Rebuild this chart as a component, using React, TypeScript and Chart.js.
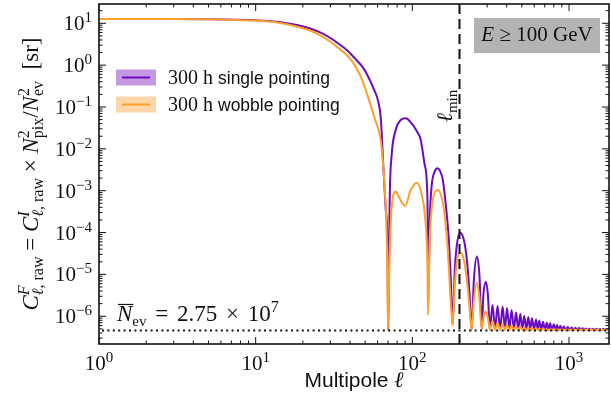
import React, { useEffect, useRef } from 'react';
import { Chart, registerables } from 'chart.js';

Chart.register(...registerables);

// ---- data (multipole ell, C_ell raw in sr) ----
const singlePointing: [number, number][] = [
  [1, 12.6], [3, 12.6], [6, 12.4], [10, 11.8], [14, 10.7], [18.4, 9.1], [22, 7.6], [26, 6.0], [30, 4.45],
  [34, 3.2], [38.4, 2.25], [43, 1.45], [48.7, 0.85], [52, 0.55], [56.4, 0.284], [60.7, 0.131], [63, 0.05],
  [65.6, 2.65e-3], [67.5, 4.0e-4],
  [69.3, 6.6e-5], [70.3, 4.6e-7], [71.7, 6.0e-4], [73.8, 7.1e-3], [78.3, 0.0282], [84.3, 0.0489],
  [90.7, 0.0537], [100.6, 0.0372], [107, 0.026], [113.2, 0.0163], [120, 4.1e-3], [124.9, 6.0e-4],
  [126.4, 2.5e-6], [129.2, 2.0e-4], [133, 1.37e-3], [138, 2.7e-3], [144.7, 3.43e-3], [150, 3.0e-3],
  [156.5, 1.8e-3], [166, 2.6e-4], [171, 6.6e-5], [176, 8e-6], [180.6, 6.2e-7], [186.7, 1.29e-5],
  [192.3, 5.0e-5], [202, 9.9e-5], [213.3, 6.6e-5], [223, 2.2e-5], [231, 4.2e-6], [239, 4.8e-7],
  [247, 7.3e-6], [258, 2.68e-5], [268, 9.7e-6], [277, 5.0e-7], [284, 3.2e-6], [295, 6.7e-6],
  [303.7, 3.2e-6], [312.7, 5.0e-7], [325, 1.86e-6], [337, 5.0e-7], [350, 1.76e-6], [363, 5.0e-7],
  [377, 1.7e-6], [390, 5.0e-7], [402, 1.57e-6], [416, 5.0e-7], [430, 1.41e-6], [445, 4.9e-7],
  [459, 1.22e-6], [474, 4.9e-7], [489, 1.15e-6], [503, 4.9e-7], [518, 1.01e-6], [534, 4.9e-7],
  [550, 9.6e-7], [565, 4.8e-7], [580, 8.9e-7], [598, 4.8e-7], [616, 8.4e-7], [631, 4.8e-7],
  [646, 7.8e-7], [665, 4.8e-7], [683, 7.4e-7], [702, 4.7e-7], [721, 7.0e-7], [739, 4.7e-7],
  [757, 6.8e-7], [778, 4.7e-7], [799, 6.4e-7], [819, 4.7e-7], [839, 6.2e-7], [860, 4.7e-7],
  [881, 5.9e-7], [903, 4.7e-7], [926, 5.7e-7], [954, 4.7e-7], [982, 5.5e-7], [1010, 4.7e-7],
  [1040, 5.4e-7], [1070, 4.7e-7], [1100, 5.3e-7], [1130, 4.7e-7], [1160, 5.2e-7], [1190, 4.7e-7],
  [1220, 5.15e-7], [1250, 4.7e-7], [1280, 5.1e-7], [1315, 4.7e-7], [1350, 5.05e-7], [1385, 4.7e-7],
  [1420, 5.0e-7], [1460, 4.7e-7], [1500, 5.0e-7], [1540, 4.7e-7], [1580, 4.95e-7], [1620, 4.7e-7],
  [1660, 4.95e-7], [1700, 4.7e-7], [1750, 4.9e-7], [1800, 4.8e-7],
];

const wobblePointing: [number, number][] = [
  [1, 12.6], [3, 12.6], [6, 12.3], [10, 11.6], [14, 10.3], [18.4, 8.3], [22, 6.8], [26, 5.1], [30, 3.63],
  [34, 2.5], [38.4, 1.7], [42, 1.12], [46.7, 0.55], [50.3, 0.26], [54, 0.115], [58, 0.048], [62.8, 0.0163],
  [65.3, 3.5e-3], [67.6, 4.1e-4], [69, 3e-5], [69.9, 4.6e-7], [71.7, 3.8e-5], [74.6, 6.0e-4], [78.3, 9.5e-4],
  [81.9, 7.1e-4], [89.8, 4.3e-4], [97.7, 1.04e-3], [106.7, 1.55e-3], [114.9, 7.9e-4], [121, 2.0e-4],
  [124.5, 2.5e-5], [126, 1.07e-6], [129.2, 6.6e-5], [135, 6.0e-4], [146, 1.04e-3], [156.5, 5.1e-4],
  [163.6, 1.4e-4], [169, 3e-5], [175, 3e-6], [180.6, 6.2e-7], [186.7, 5.6e-6], [192.3, 1.98e-5],
  [202, 3.37e-5], [213.3, 2.2e-5], [223, 7.3e-6], [231, 1.86e-6], [239, 4.7e-7], [247, 2.4e-6],
  [258, 6.3e-6], [268, 2.7e-6], [277, 4.8e-7], [286, 1.0e-6], [295, 1.29e-6], [304, 9e-7],
  [312.7, 4.7e-7], [325, 7.7e-7], [337, 4.7e-7], [350, 6.8e-7], [363, 4.7e-7], [377, 6.5e-7],
  [390, 4.65e-7], [402, 6.2e-7], [416, 4.65e-7], [430, 6.0e-7], [445, 4.65e-7], [459, 5.8e-7],
  [474, 4.65e-7], [489, 5.6e-7], [503, 4.65e-7], [518, 5.4e-7], [534, 4.65e-7], [550, 5.3e-7],
  [565, 4.65e-7], [580, 5.2e-7], [598, 4.65e-7], [616, 5.1e-7], [631, 4.65e-7], [646, 5.0e-7],
  [665, 4.65e-7], [683, 4.95e-7], [720, 4.75e-7], [800, 4.8e-7], [1000, 4.75e-7], [1400, 4.75e-7],
  [1800, 4.7e-7],
];

const seriesLabels = ['single pointing', 'wobble pointing'];
const noiseLevel = 4.57e-7;
const ellMin = 200;
const xRange = [1, 1800];
const yRange = [2.17e-7, 28.9];
const xTickExps = [0, 1, 2, 3];
const yTickExps = [-6, -5, -4, -3, -2, -1, 0, 1];

const PURPLE = '#6a0cc0';
const ORANGE = '#ffa02e';
const PURPLE_FILL = 'rgba(150, 70, 200, 0.55)';
const ORANGE_FILL = 'rgba(253, 180, 100, 0.55)';
const SERIF = '"Liberation Serif", "DejaVu Serif", serif';
const SANS = '"Liberation Sans", "DejaVu Sans", sans-serif';

type Tok = { t?: string; s?: number; it?: boolean; fam?: string; dy?: number; over?: boolean; gap?: number; sup?: Tok[]; sub?: Tok[] };

const fontOf = (k: Tok) => `${k.it ? 'italic ' : ''}${k.s || 21}px ${k.fam || SERIF}`;

function runWidth(ctx: CanvasRenderingContext2D, toks: Tok[]): number {
  let w = 0;
  for (const k of toks) {
    if (k.gap) {
      w += k.gap;
    } else if (k.sup || k.sub) {
      w += Math.max(runWidth(ctx, k.sup || []), runWidth(ctx, k.sub || []));
    } else {
      ctx.font = fontOf(k);
      w += ctx.measureText(k.t || '').width;
    }
  }
  return w;
}

function drawRun(ctx: CanvasRenderingContext2D, toks: Tok[], x: number, y: number): number {
  let cx = x;
  for (const k of toks) {
    if (k.gap) {
      cx += k.gap;
    } else if (k.sup || k.sub) {
      const a = drawRun(ctx, k.sup || [], cx, y);
      const b = drawRun(ctx, k.sub || [], cx, y);
      cx = Math.max(a, b);
    } else {
      ctx.font = fontOf(k);
      const w = ctx.measureText(k.t || '').width;
      ctx.fillText(k.t || '', cx, y + (k.dy || 0));
      if (k.over) {
        ctx.save();
        ctx.lineWidth = 1.2;
        ctx.beginPath();
        ctx.moveTo(cx + 1, y + (k.dy || 0) - 17);
        ctx.lineTo(cx + w + 1, y + (k.dy || 0) - 17);
        ctx.stroke();
        ctx.restore();
      }
      cx += w;
    }
  }
  return cx;
}

const supTok = (t: string, it = false, s = 15): Tok => ({ t, s, it, dy: -9 });
const subTok = (t: string, it = false, s = 15): Tok => ({ t, s, it, dy: 5 });
const powTen = (e: number): Tok[] => [{ t: '10', s: 21 }, { t: e < 0 ? '\u2212' + (-e) : String(e), s: 15, dy: -8 }];

const decor = {
  id: 'decor',
  afterDatasetsDraw(chart: any) {
    const { ctx, chartArea: a, scales } = chart;
    const xs = scales.x;
    const ys = scales.y;
    ctx.save();
    ctx.fillStyle = '#111';
    ctx.strokeStyle = '#111';
    ctx.textBaseline = 'alphabetic';
    ctx.textAlign = 'left';

    // noise level (dotted)
    const yn = ys.getPixelForValue(noiseLevel);
    ctx.save();
    ctx.lineWidth = 2;
    ctx.setLineDash([2, 3.4]);
    ctx.beginPath();
    ctx.moveTo(a.left + 3, yn);
    ctx.lineTo(a.right, yn);
    ctx.stroke();
    ctx.restore();

    // ell_min dashed
    const xm = xs.getPixelForValue(ellMin);
    ctx.save();
    ctx.lineWidth = 2;
    ctx.setLineDash([10, 5]);
    ctx.beginPath();
    ctx.moveTo(xm, a.top);
    ctx.lineTo(xm, a.bottom);
    ctx.stroke();
    ctx.restore();

    // frame
    ctx.lineWidth = 1.6;
    ctx.strokeRect(a.left, a.top, a.right - a.left, a.bottom - a.top);

    // ticks
    ctx.lineWidth = 1;
    const tick = (x1: number, y1: number, x2: number, y2: number) => {
      ctx.beginPath();
      ctx.moveTo(x1, y1);
      ctx.lineTo(x2, y2);
      ctx.stroke();
    };
    for (let e = -7; e <= 1; e++) {
      for (let m = 1; m <= 9; m++) {
        const v = m * Math.pow(10, e);
        if (v < yRange[0] || v > yRange[1]) continue;
        const y = ys.getPixelForValue(v);
        const len = m === 1 ? 7 : 3.5;
        tick(a.left, y, a.left + len, y);
        tick(a.right, y, a.right - len, y);
      }
    }
    for (let e = 0; e <= 3; e++) {
      for (let m = 1; m <= 9; m++) {
        const v = m * Math.pow(10, e);
        if (v < xRange[0] || v > xRange[1]) continue;
        const x = xs.getPixelForValue(v);
        const len = m === 1 ? 7 : 3.5;
        tick(x, a.bottom, x, a.bottom - len);
        tick(x, a.top, x, a.top + len);
      }
    }

    // tick labels
    for (const e of yTickExps) {
      const y = ys.getPixelForValue(Math.pow(10, e));
      const toks = powTen(e);
      const w = runWidth(ctx, toks);
      drawRun(ctx, toks, a.left - 7 - w, y + 7);
    }
    for (const e of xTickExps) {
      const x = xs.getPixelForValue(Math.pow(10, e));
      const toks = powTen(e);
      const w = runWidth(ctx, toks);
      drawRun(ctx, toks, x - w / 2, a.bottom + 26);
    }

    // x-axis title
    const xt: Tok[] = [{ t: 'Multipole ', s: 21, fam: SANS }, { t: '\u2113', s: 22, it: true }];
    const xtw = runWidth(ctx, xt);
    drawRun(ctx, xt, (a.left + a.right) / 2 - xtw / 2, a.bottom + 43);

    // y-axis title (rotated)
    const ell = (s: number, dy: number): Tok => ({ t: '\u2113', s, it: true, dy });
    const B = 23;
    const yt: Tok[] = [
      { t: 'C', it: true, s: B },
      { sup: [supTok('F', true, 16)], sub: [ell(16, 5), subTok(', raw', false, 16)] },
      { t: ' = ', s: B },
      { t: 'C', it: true, s: B },
      { sup: [supTok('I', true, 16)], sub: [ell(16, 5), subTok(', raw', false, 16)] },
      { t: ' \u00d7 ', s: B },
      { t: 'N', it: true, s: B },
      { sup: [supTok('2', false, 16)], sub: [subTok('pix', false, 16)] },
      { t: '/', s: B },
      { t: 'N', it: true, s: B },
      { sup: [supTok('2', false, 16)], sub: [subTok('ev', false, 16)] },
      { t: '  [sr]', s: B },
    ];
    const ytw = runWidth(ctx, yt);
    ctx.save();
    ctx.translate(38, 174);
    ctx.rotate(-Math.PI / 2);
    drawRun(ctx, yt, -ytw / 2, 0);
    ctx.restore();

    // ell_min label (rotated)
    const lm: Tok[] = [{ t: '\u2113', s: 22, it: true }, subTok('min')];
    const lmw = runWidth(ctx, lm);
    ctx.save();
    ctx.translate(xm - 7, 106);
    ctx.rotate(-Math.PI / 2);
    drawRun(ctx, lm, -lmw / 2, 0);
    ctx.restore();

    // noise label
    const nl: Tok[] = [
      { t: 'N', it: true, over: true, s: 23 }, subTok('ev'),
      { gap: 3 }, { t: ' = ', s: 23 }, { gap: 3 },
      { t: '2.75', s: 23 }, { gap: 3 }, { t: ' \u00d7 ', s: 23 }, { gap: 3 },
      { t: '10', s: 23 }, { t: '7', s: 16, dy: -9 },
    ];
    drawRun(ctx, nl, a.left + 18, yn - 9);

    // energy box
    ctx.fillStyle = '#b3b3b3';
    ctx.fillRect(474, 18, 126, 35);
    ctx.fillStyle = '#111';
    const eb: Tok[] = [{ t: 'E', it: true }, { t: ' \u2265 100 GeV' }];
    const ebw = runWidth(ctx, eb);
    drawRun(ctx, eb, 537 - ebw / 2, 41);

    // legend
    const rows = [
      { fill: PURPLE_FILL, line: PURPLE, label: seriesLabels[0], y: 77.5 },
      { fill: ORANGE_FILL, line: ORANGE, label: seriesLabels[1], y: 104.5 },
    ];
    for (const r of rows) {
      ctx.fillStyle = r.fill;
      ctx.fillRect(116, r.y - 8, 40, 16);
      ctx.strokeStyle = r.line;
      ctx.lineWidth = 2;
      ctx.beginPath();
      ctx.moveTo(122, r.y);
      ctx.lineTo(150, r.y);
      ctx.stroke();
      ctx.fillStyle = '#111';
      drawRun(ctx, [{ t: '300 h ', s: 20 }, { t: r.label, s: 17.5, fam: SANS }], 168, r.y + 6);
    }
    ctx.restore();
  },
};

export default function App() {
  const ref = useRef<HTMLCanvasElement | null>(null);
  useEffect(() => {
    document.body.style.margin = '0';
    const canvas = ref.current;
    if (!canvas) return;
    const chart = new Chart(canvas, {
      type: 'line',
      data: {
        datasets: [
          {
            label: '300 h ' + seriesLabels[1],
            data: wobblePointing.map(([x, y]) => ({ x, y })),
            borderColor: ORANGE,
            backgroundColor: ORANGE,
            borderWidth: 2,
            pointRadius: 0,
            cubicInterpolationMode: 'monotone',
            order: 0,
          },
          {
            label: '300 h ' + seriesLabels[0],
            data: singlePointing.map(([x, y]) => ({ x, y })),
            borderColor: PURPLE,
            backgroundColor: PURPLE,
            borderWidth: 2,
            pointRadius: 0,
            cubicInterpolationMode: 'monotone',
            order: 1,
          },
        ],
      },
      options: {
        animation: false,
        responsive: false,
        layout: { padding: { left: 99, right: 2, top: 4, bottom: 52 } },
        scales: {
          x: { type: 'logarithmic', min: xRange[0], max: xRange[1], display: false },
          y: { type: 'logarithmic', min: yRange[0], max: yRange[1], display: false },
        },
        plugins: { legend: { display: false }, tooltip: { enabled: false } },
      },
      plugins: [decor],
    } as any);
    return () => chart.destroy();
  }, []);
  return (
    <div style={{ position: 'absolute', left: 0, top: 0, width: 611, height: 396, background: '#fff' }}>
      <canvas ref={ref} width={611} height={396} />
    </div>
  );
}
